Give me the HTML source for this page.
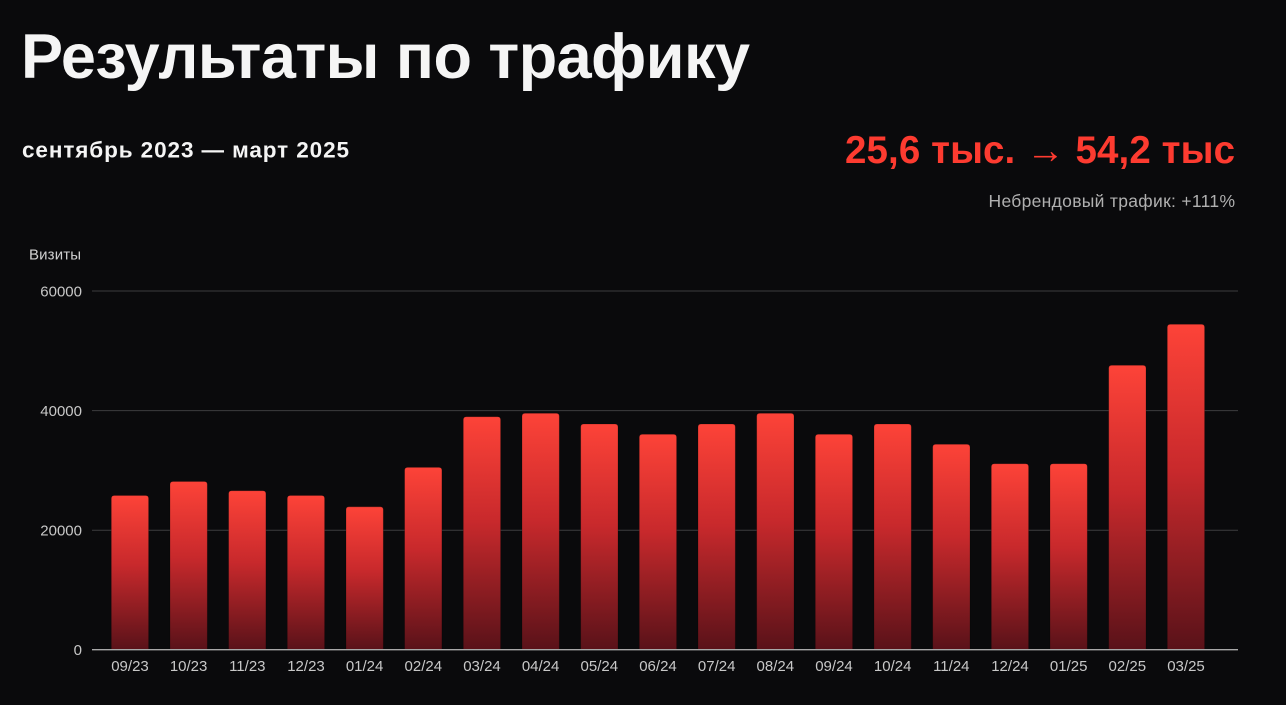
<!DOCTYPE html>
<html><head><meta charset="utf-8">
<style>
html,body{margin:0;padding:0;background:#0a0a0c;}
svg{display:block;}
text{font-family:"Liberation Sans","DejaVu Sans",sans-serif;}
</style></head>
<body>
<svg width="1286" height="705" viewBox="0 0 1286 705" xmlns="http://www.w3.org/2000/svg">
<defs>
<linearGradient id="g" x1="0" y1="0" x2="0" y2="1">
<stop offset="0" stop-color="#fd4338"/>
<stop offset="0.45" stop-color="#c8292c"/>
<stop offset="1" stop-color="#591219"/>
</linearGradient>
</defs>
<rect width="1286" height="705" fill="#0a0a0c"/>
<text x="21" y="78" font-size="63" font-weight="bold" fill="#f5f5f5" textLength="729" lengthAdjust="spacing">Результаты по трафику</text>
<text x="22" y="157.5" font-size="22.5" font-weight="bold" fill="#f5f5f5" textLength="327" lengthAdjust="spacing">сентябрь 2023 — март 2025</text>
<text x="845" y="163" font-size="38.5" font-weight="bold" fill="#fd3b30" textLength="390" lengthAdjust="spacing">25,6 тыс. → 54,2 тыс</text>
<text x="988.5" y="207" font-size="17.5" fill="#b0b0b0" textLength="246.5" lengthAdjust="spacing">Небрендовый трафик: +111%</text>
<text x="29" y="259.3" font-size="15" fill="#d0d0d0" textLength="52" lengthAdjust="spacing">Визиты</text>
<g stroke="#3c3c3e" stroke-width="1">
<line x1="92" y1="291" x2="1238" y2="291"/>
<line x1="92" y1="410.6" x2="1238" y2="410.6"/>
<line x1="92" y1="530.2" x2="1238" y2="530.2"/>
</g>
<g font-size="15" fill="#c8c8c8" text-anchor="end">
<text x="82" y="296.3">60000</text>
<text x="82" y="416">40000</text>
<text x="82" y="535.5">20000</text>
<text x="82" y="655">0</text>
</g>
<g fill="url(#g)" stroke="rgba(0,0,0,0.25)" stroke-width="0.8">
<path d="M111.3,649.7 V498.5 q0,-3 3,-3 h31.3 q3,0 3,3 V649.7 Z"/>
<path d="M170,649.7 V484.5 q0,-3 3,-3 h31.3 q3,0 3,3 V649.7 Z"/>
<path d="M228.6,649.7 V493.7 q0,-3 3,-3 h31.3 q3,0 3,3 V649.7 Z"/>
<path d="M287.3,649.7 V498.5 q0,-3 3,-3 h31.3 q3,0 3,3 V649.7 Z"/>
<path d="M346,649.7 V509.8 q0,-3 3,-3 h31.3 q3,0 3,3 V649.7 Z"/>
<path d="M404.6,649.7 V470.4 q0,-3 3,-3 h31.3 q3,0 3,3 V649.7 Z"/>
<path d="M463.3,649.7 V419.7 q0,-3 3,-3 h31.3 q3,0 3,3 V649.7 Z"/>
<path d="M522,649.7 V416.3 q0,-3 3,-3 h31.3 q3,0 3,3 V649.7 Z"/>
<path d="M580.7,649.7 V427 q0,-3 3,-3 h31.3 q3,0 3,3 V649.7 Z"/>
<path d="M639.3,649.7 V437.3 q0,-3 3,-3 h31.3 q3,0 3,3 V649.7 Z"/>
<path d="M698,649.7 V427 q0,-3 3,-3 h31.3 q3,0 3,3 V649.7 Z"/>
<path d="M756.7,649.7 V416.3 q0,-3 3,-3 h31.3 q3,0 3,3 V649.7 Z"/>
<path d="M815.3,649.7 V437.3 q0,-3 3,-3 h31.3 q3,0 3,3 V649.7 Z"/>
<path d="M874,649.7 V427 q0,-3 3,-3 h31.3 q3,0 3,3 V649.7 Z"/>
<path d="M932.7,649.7 V447.3 q0,-3 3,-3 h31.3 q3,0 3,3 V649.7 Z"/>
<path d="M991.3,649.7 V466.7 q0,-3 3,-3 h31.3 q3,0 3,3 V649.7 Z"/>
<path d="M1050,649.7 V466.7 q0,-3 3,-3 h31.3 q3,0 3,3 V649.7 Z"/>
<path d="M1108.7,649.7 V368.3 q0,-3 3,-3 h31.3 q3,0 3,3 V649.7 Z"/>
<path d="M1167.3,649.7 V327.3 q0,-3 3,-3 h31.3 q3,0 3,3 V649.7 Z"/>
</g>
<line x1="92" y1="649.7" x2="1238" y2="649.7" stroke="#a8a8a8" stroke-width="1.3"/>
<g font-size="15" fill="#c8c8c8" text-anchor="middle">
<text x="130" y="671">09/23</text>
<text x="188.6" y="671">10/23</text>
<text x="247.3" y="671">11/23</text>
<text x="306" y="671">12/23</text>
<text x="364.6" y="671">01/24</text>
<text x="423.3" y="671">02/24</text>
<text x="482" y="671">03/24</text>
<text x="540.6" y="671">04/24</text>
<text x="599.3" y="671">05/24</text>
<text x="658" y="671">06/24</text>
<text x="716.7" y="671">07/24</text>
<text x="775.3" y="671">08/24</text>
<text x="834" y="671">09/24</text>
<text x="892.7" y="671">10/24</text>
<text x="951.3" y="671">11/24</text>
<text x="1010" y="671">12/24</text>
<text x="1068.7" y="671">01/25</text>
<text x="1127.3" y="671">02/25</text>
<text x="1186" y="671">03/25</text>
</g>
</svg>
</body></html>
